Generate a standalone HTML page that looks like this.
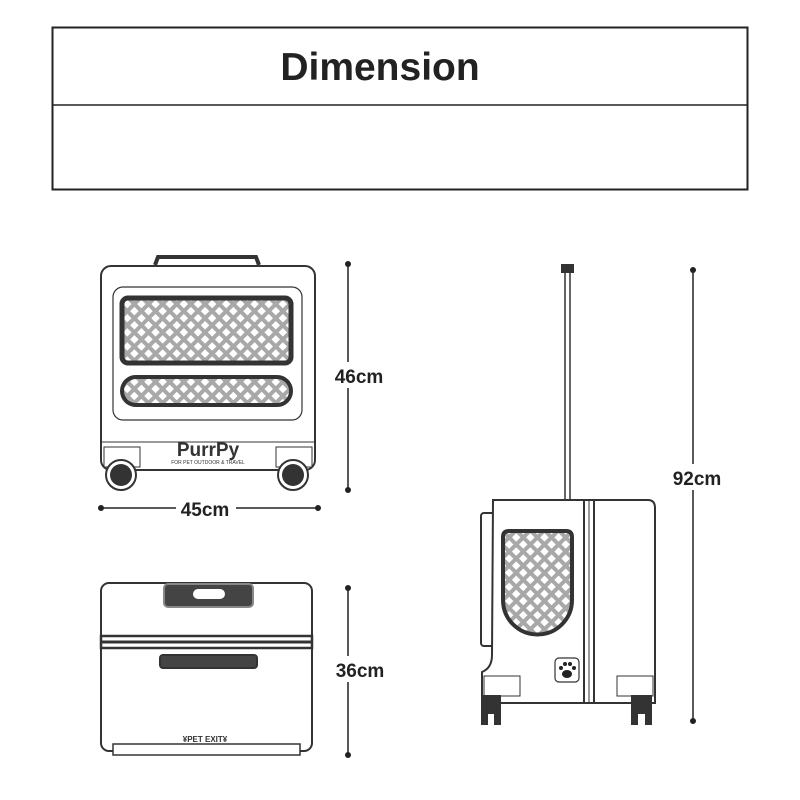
<!DOCTYPE html>
<html><head><style>body{margin:0;background:#fff}svg{display:block}text{font-family:"Liberation Sans","DejaVu Sans",sans-serif}</style></head>
<body>
<svg width="800" height="800" viewBox="0 0 800 800" xmlns="http://www.w3.org/2000/svg">
<defs>
<pattern id="mesh" width="10" height="10" patternUnits="userSpaceOnUse" patternTransform="rotate(45)">
<rect width="10" height="10" fill="#a8a8a8"/><rect x="2" y="2" width="6" height="6" fill="#fff"/>
</pattern>
</defs>
<rect x="52.5" y="27.5" width="695" height="162" fill="none" stroke="#222" stroke-width="2"/>
<line x1="52" y1="105" x2="748" y2="105" stroke="#222" stroke-width="1.5"/>
<text x="380" y="80" font-size="39" font-weight="bold" text-anchor="middle" fill="#222">Dimension</text>

<!-- front view -->
<g stroke="#333" fill="none" stroke-width="2">
<path d="M155 265 L158 257 L256 257 L259 265" stroke-width="4"/>
<rect x="101" y="266" width="214" height="204" rx="10" fill="#fff"/>
<rect x="113" y="287" width="189" height="133" rx="10" stroke-width="1.2"/>
<rect x="122" y="298" width="169" height="65" rx="6" fill="url(#mesh)" stroke="#333" stroke-width="5"/>
<rect x="122" y="377" width="169" height="28" rx="14" fill="url(#mesh)" stroke="#333" stroke-width="4"/>
<line x1="101" y1="442" x2="315" y2="442" stroke-width="1"/>
<rect x="104" y="447" width="36" height="20" stroke-width="1"/>
<rect x="276" y="447" width="36" height="20" stroke-width="1"/>
</g>
<circle cx="121" cy="475" r="15" fill="#fff" stroke="#333" stroke-width="2"/><circle cx="121" cy="475" r="11" fill="#333"/>
<circle cx="293" cy="475" r="15" fill="#fff" stroke="#333" stroke-width="2"/><circle cx="293" cy="475" r="11" fill="#333"/>
<text x="208" y="456" font-size="19" font-weight="bold" text-anchor="middle" fill="#333">PurrPy</text>
<text x="208" y="464" font-size="5" text-anchor="middle" fill="#333">FOR PET OUTDOOR &amp; TRAVEL</text>

<!-- 46 dim -->
<line x1="348" y1="264" x2="348" y2="490" stroke="#222" stroke-width="1.5"/>
<circle cx="348" cy="264" r="3" fill="#222"/><circle cx="348" cy="490" r="3" fill="#222"/>
<rect x="328" y="362" width="60" height="26" fill="#fff"/>
<text x="359" y="383" font-size="19" font-weight="bold" text-anchor="middle" fill="#222">46cm</text>
<!-- 45 dim -->
<line x1="101" y1="508" x2="318" y2="508" stroke="#222" stroke-width="1.5"/>
<circle cx="101" cy="508" r="3" fill="#222"/><circle cx="318" cy="508" r="3" fill="#222"/>
<rect x="176" y="498" width="60" height="22" fill="#fff"/>
<text x="205" y="516" font-size="19" font-weight="bold" text-anchor="middle" fill="#222">45cm</text>

<!-- top view -->
<g stroke="#333" fill="none" stroke-width="2">
<rect x="101" y="583" width="211" height="168" rx="8" fill="#fff"/>
<rect x="164" y="584" width="89" height="23" rx="4" fill="#444" stroke="#888"/>
<rect x="194" y="590" width="30" height="8" rx="4" fill="#fff" stroke="#fff"/>
<rect x="101" y="636" width="211" height="12" fill="#fff" stroke-width="2.5"/>
<line x1="101" y1="642" x2="312" y2="642" stroke-width="3"/>
<rect x="160" y="655" width="97" height="13" rx="3" fill="#444"/>
<rect x="113" y="744" width="187" height="11" fill="#fff" stroke-width="1.5"/>
</g>
<text x="205" y="742" font-size="8" font-weight="bold" text-anchor="middle" fill="#333">¥PET EXIT¥</text>
<line x1="348" y1="588" x2="348" y2="755" stroke="#222" stroke-width="1.5"/>
<circle cx="348" cy="588" r="3" fill="#222"/><circle cx="348" cy="755" r="3" fill="#222"/>
<rect x="328" y="656" width="62" height="26" fill="#fff"/>
<text x="360" y="677" font-size="19" font-weight="bold" text-anchor="middle" fill="#222">36cm</text>

<!-- side view -->
<g stroke="#333" fill="none" stroke-width="2">
<rect x="565" y="270" width="5" height="232" fill="#fff" stroke-width="1.5"/>
<rect x="562" y="265" width="11" height="7" fill="#333"/>
<rect x="481" y="513" width="14" height="133" rx="3" fill="#fff"/>
<path d="M493 500 H648 Q655 500 655 508 V703 H482 V672 Q492 668 492 655 Z" fill="#fff"/>
<rect x="584" y="500" width="10" height="203" fill="#fff"/>
<line x1="589" y1="500" x2="589" y2="703" stroke-width="1"/>
<path d="M503 537 Q503 531 509 531 H566 Q572 531 572 537 V600 A34 34 0 0 1 503 600 Z" fill="url(#mesh)" stroke-width="4"/>
<rect x="555" y="658" width="24" height="24" rx="4" stroke-width="1.2"/>
<rect x="484" y="676" width="36" height="20" stroke-width="1"/>
<rect x="617" y="676" width="36" height="20" stroke-width="1"/>
</g>
<g fill="#222">
<ellipse cx="567" cy="674" rx="5" ry="4"/>
<circle cx="561" cy="668" r="2"/><circle cx="565" cy="664" r="2"/><circle cx="570" cy="664" r="2"/><circle cx="574" cy="668" r="2"/>
</g>
<path d="M481 695 H501 V725 H494 V714 H488 V725 H481 Z" fill="#333"/>
<path d="M631 695 H652 V725 H645 V714 H638 V725 H631 Z" fill="#333"/>
<line x1="693" y1="270" x2="693" y2="721" stroke="#222" stroke-width="1.5"/>
<circle cx="693" cy="270" r="3" fill="#222"/><circle cx="693" cy="721" r="3" fill="#222"/>
<rect x="668" y="464" width="60" height="26" fill="#fff"/>
<text x="697" y="485" font-size="19" font-weight="bold" text-anchor="middle" fill="#222">92cm</text>
</svg>
</body></html>
